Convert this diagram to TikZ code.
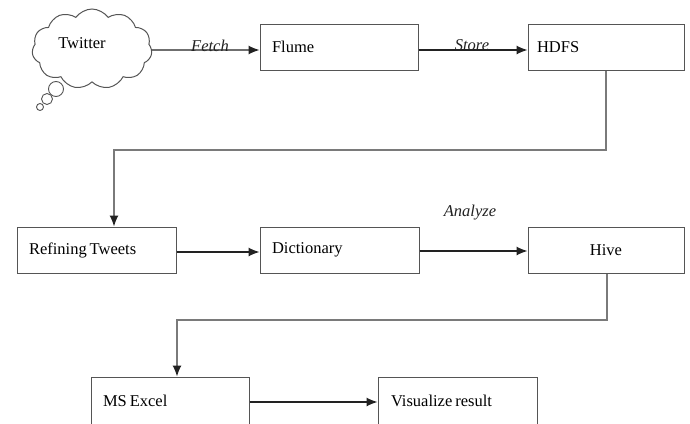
\documentclass[tikz,border=0pt]{standalone}
\usepackage{fontspec}
\setmainfont{Liberation Serif}
\usetikzlibrary{shapes.symbols,arrows.meta}
\definecolor{boxline}{HTML}{555555}
\definecolor{conn}{HTML}{7A7A7A}
\definecolor{arr}{HTML}{222222}
\tikzset{
  x=1pt, y=-1pt,
  every node/.style={font=\fontsize{16.5}{18}\selectfont},
  procbox/.style={draw=boxline, line width=1pt, rectangle, minimum height=46pt,
    inner xsep=12pt, align=left, anchor=center,
    execute at begin node={\spaceskip=3pt plus 1pt\relax}},
  flowarrow/.style={draw=arr, line width=1.2pt, -{Latex[length=11pt,width=9pt]}},
  bendarrow/.style={draw=conn, line width=1.2pt, -{Latex[length=11pt,width=9pt,color=arr]}},
  edgelabel/.style={font=\fontsize{16.5}{18}\selectfont\itshape, text=arr}
}
\begin{document}
\begin{tikzpicture}
\useasboundingbox (0,0) rectangle (690,423);
% cloud
\node (cloud) [cloud, cloud puffs=11, cloud puff arc=110, aspect=1.6, draw=boxline, line width=1pt,
  minimum width=120pt, minimum height=80pt, inner sep=0pt] at (92,49) {};
\node (twlabel) at (82,43) {Twitter};
\node (b1) [circle, draw=boxline, line width=0.9pt, minimum size=15pt, inner sep=0pt] at (56,89) {};
\node (b2) [circle, draw=boxline, line width=0.9pt, minimum size=11pt, inner sep=0pt] at (47,99) {};
\node (b3) [circle, draw=boxline, line width=0.9pt, minimum size=7pt, inner sep=0pt] at (40,107) {};
% boxes
\node (flume) [procbox, minimum width=158pt, text width=134pt] at (339,47) {Flume};
\node (hdfs) [procbox, minimum width=156pt, text width=138pt, inner xsep=9pt] at (606,47) {HDFS};
\node (refine) [procbox, minimum width=159pt, text width=135pt] at (96.5,250) {Refining Tweets};
\node (dict) [procbox, minimum width=159pt, text width=135pt] at (339.5,250) {Dictionary};
\node (hive) [procbox, minimum width=156pt, text width=132pt, align=center] at (606,250) {Hive};
\node (excel) [procbox, minimum width=158pt, minimum height=47pt, text width=134pt] at (170,400.5) {MS Excel};
\node (vis) [procbox, minimum width=159pt, minimum height=47pt, text width=133pt, inner xsep=13pt] at (457.5,400.5) {Visualize result};
% connectors
\coordinate (c1) at (606,150);
\coordinate (c2) at (607,320);
\draw[flowarrow] ([yshift=-1pt]cloud.east) -- ([yshift=-3pt]flume.west);
\draw[flowarrow] ([yshift=-3pt]flume.east) -- ([yshift=-3pt]hdfs.west);
\draw[bendarrow] (hdfs.south) -- (c1) -| ([xshift=17.5pt]refine.north);
\draw[flowarrow] ([yshift=-2pt]refine.east) -- ([yshift=-2pt]dict.west);
\draw[flowarrow] ([yshift=-1pt]dict.east) -- ([yshift=-1pt]hive.west);
\draw[bendarrow] ([xshift=1pt]hive.south) -- (c2) -| ([xshift=7pt]excel.north);
\draw[flowarrow] ([yshift=-1.5pt]excel.east) -- ([yshift=-1.5pt]vis.west);
% labels
\node (fetch) [edgelabel] at (210,46) {Fetch};
\node (store) [edgelabel] at (472,45) {Store};
\node (analyze) [edgelabel] at (470,213) {Analyze};
\end{tikzpicture}
\end{document}
